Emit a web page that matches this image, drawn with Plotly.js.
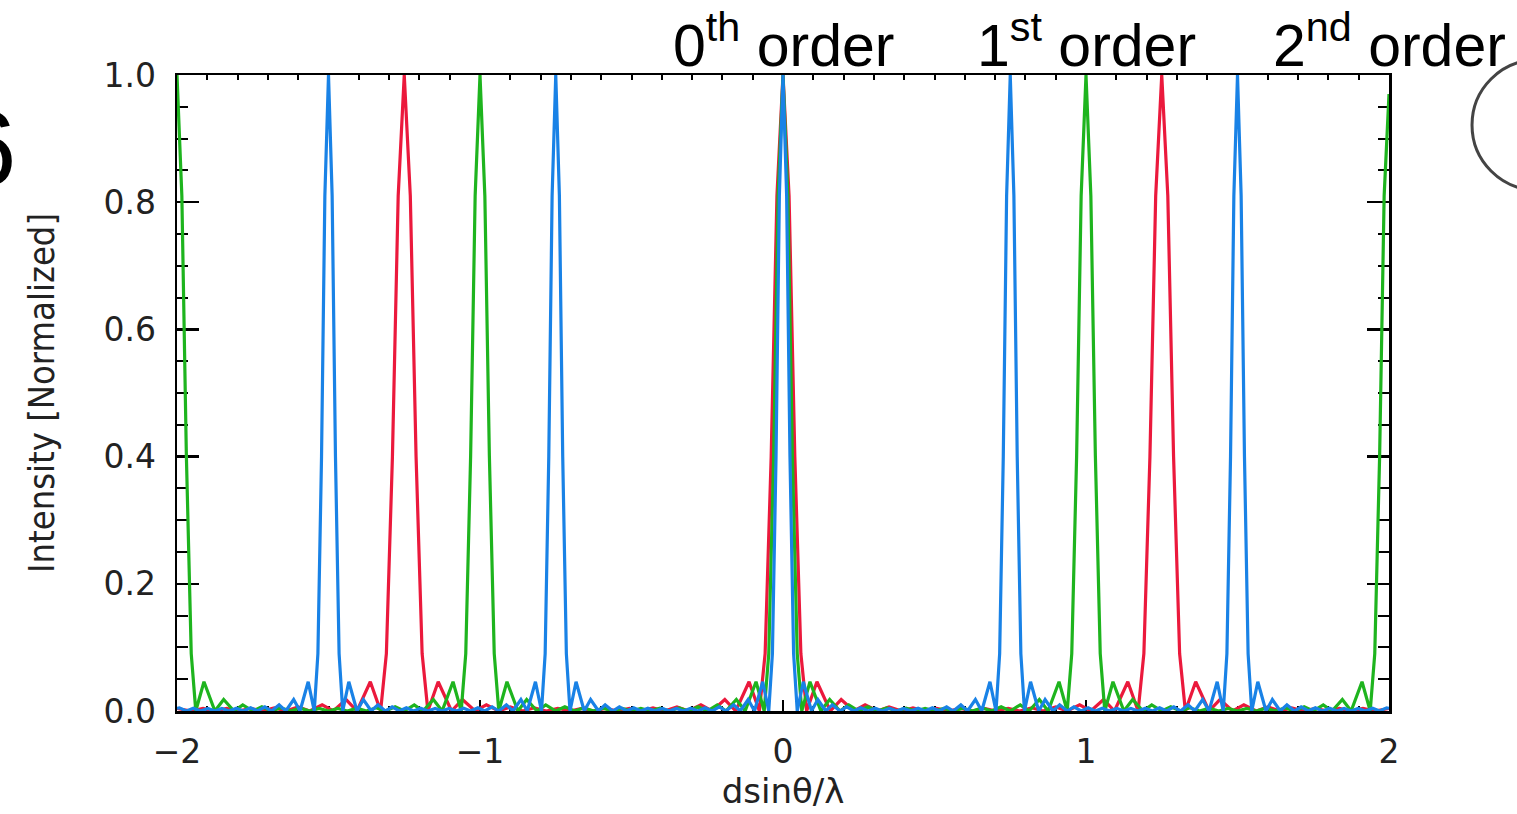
<!DOCTYPE html>
<html>
<head>
<meta charset="utf-8">
<script src="https://cdn.plot.ly/plotly-3.0.1.min.js"></script>
<style>html,body{margin:0;padding:0;background:#fff;}#chart{width:1517px;height:814px;}</style>
</head>
<body>
<div id="chart"></div>
<script>
// Blue series (principal maxima at multiples of 0.75)
const blueX = [
-2.000,-1.992,-1.969,-1.946,-1.922,-1.898,-1.875,-1.852,-1.828,-1.804,-1.781,-1.757,-1.734,-1.710,-1.688,-1.663,-1.641,-1.615,-1.594,-1.567,-1.547,-1.535,-1.523,-1.512,-1.500,
-1.488,-1.477,-1.465,-1.453,-1.433,-1.406,-1.385,-1.359,-1.337,-1.312,-1.290,-1.266,-1.243,-1.219,-1.196,-1.172,-1.148,-1.125,-1.102,-1.078,-1.054,-1.031,-1.007,-0.984,-0.960,-0.938,-0.913,-0.891,-0.865,-0.844,-0.817,-0.797,-0.785,-0.773,-0.762,-0.750,
-0.738,-0.727,-0.715,-0.703,-0.683,-0.656,-0.635,-0.609,-0.587,-0.562,-0.540,-0.516,-0.493,-0.469,-0.446,-0.422,-0.398,-0.375,-0.352,-0.328,-0.304,-0.281,-0.257,-0.234,-0.210,-0.188,-0.163,-0.141,-0.115,-0.094,-0.067,-0.047,-0.035,-0.023,-0.012,0.000,
0.012,0.023,0.035,0.047,0.067,0.094,0.115,0.141,0.163,0.188,0.210,0.234,0.257,0.281,0.304,0.328,0.352,0.375,0.398,0.422,0.446,0.469,0.493,0.516,0.540,0.562,0.587,0.609,0.635,0.656,0.683,0.703,0.715,0.727,0.738,0.750,
0.762,0.773,0.785,0.797,0.817,0.844,0.865,0.891,0.913,0.938,0.960,0.984,1.007,1.031,1.054,1.078,1.102,1.125,1.148,1.172,1.196,1.219,1.243,1.266,1.290,1.312,1.337,1.359,1.385,1.406,1.433,1.453,1.465,1.477,1.488,1.500,
1.512,1.523,1.535,1.547,1.567,1.594,1.615,1.641,1.663,1.688,1.710,1.734,1.757,1.781,1.804,1.828,1.852,1.875,1.898,1.922,1.946,1.969,1.992,2.000
];
const blueY = [
0.004,0.005,0,0.0043,0,0.004,0,0.004,0,0.0043,0,0.005,0,0.0065,0,0.0097,0,0.018,0,0.046,0,0.09,0.40,0.81,1.00,
0.81,0.40,0.09,0,0.046,0,0.018,0,0.0097,0,0.0065,0,0.005,0,0.0043,0,0.004,0,0.004,0,0.0043,0,0.005,0,0.0065,0,0.0097,0,0.018,0,0.046,0,0.09,0.40,0.81,1.00,
0.81,0.40,0.09,0,0.046,0,0.018,0,0.0097,0,0.0065,0,0.005,0,0.0043,0,0.004,0,0.004,0,0.0043,0,0.005,0,0.0065,0,0.0097,0,0.018,0,0.046,0,0.09,0.40,0.81,1.00,
0.81,0.40,0.09,0,0.046,0,0.018,0,0.0097,0,0.0065,0,0.005,0,0.0043,0,0.004,0,0.004,0,0.0043,0,0.005,0,0.0065,0,0.0097,0,0.018,0,0.046,0,0.09,0.40,0.81,1.00,
0.81,0.40,0.09,0,0.046,0,0.018,0,0.0097,0,0.0065,0,0.005,0,0.0043,0,0.004,0,0.004,0,0.0043,0,0.005,0,0.0065,0,0.0097,0,0.018,0,0.046,0,0.09,0.40,0.81,1.00,
0.81,0.40,0.09,0,0.046,0,0.018,0,0.0097,0,0.0065,0,0.005,0,0.0043,0,0.004,0,0.004,0,0.0043,0,0.005,0.004
];

// Red series (principal maxima at multiples of 1.25)
const redX = [
-2.000,-1.953,-1.914,-1.875,-1.836,-1.797,-1.757,-1.719,-1.679,-1.641,-1.600,-1.562,-1.521,-1.484,-1.442,-1.406,-1.362,-1.328,-1.309,-1.289,-1.270,-1.250,
-1.230,-1.211,-1.191,-1.172,-1.138,-1.094,-1.058,-1.016,-0.979,-0.938,-0.900,-0.859,-0.821,-0.781,-0.743,-0.703,-0.664,-0.625,-0.586,-0.547,-0.507,-0.469,-0.429,-0.391,-0.350,-0.312,-0.271,-0.234,-0.192,-0.156,-0.112,-0.078,-0.059,-0.039,-0.020,0.000,
0.020,0.039,0.059,0.078,0.112,0.156,0.192,0.234,0.271,0.312,0.350,0.391,0.429,0.469,0.507,0.547,0.586,0.625,0.664,0.703,0.743,0.781,0.821,0.859,0.900,0.938,0.979,1.016,1.058,1.094,1.138,1.172,1.191,1.211,1.230,1.250,
1.270,1.289,1.309,1.328,1.362,1.406,1.442,1.484,1.521,1.562,1.600,1.641,1.679,1.719,1.757,1.797,1.836,1.875,1.914,1.953,2.000
];
const redY = [
0.004,0,0.004,0,0.004,0,0.0043,0,0.005,0,0.0065,0,0.0097,0,0.018,0,0.046,0,0.09,0.40,0.81,1.00,
0.81,0.40,0.09,0,0.046,0,0.018,0,0.0097,0,0.0065,0,0.005,0,0.0043,0,0.004,0,0.004,0,0.0043,0,0.005,0,0.0065,0,0.0097,0,0.018,0,0.046,0,0.09,0.40,0.81,1.00,
0.81,0.40,0.09,0,0.046,0,0.018,0,0.0097,0,0.0065,0,0.005,0,0.0043,0,0.004,0,0.004,0,0.0043,0,0.005,0,0.0065,0,0.0097,0,0.018,0,0.046,0,0.09,0.40,0.81,1.00,
0.81,0.40,0.09,0,0.046,0,0.018,0,0.0097,0,0.0065,0,0.005,0,0.0043,0,0.004,0,0.004,0,0.004
];

// Green series (principal maxima at integers)
const greenX = [
-2.000,-1.984,-1.969,-1.953,-1.938,-1.911,-1.875,-1.846,-1.812,-1.783,-1.750,-1.720,-1.688,-1.657,-1.625,-1.594,-1.562,-1.531,-1.500,-1.469,-1.438,-1.406,-1.375,-1.343,-1.312,-1.280,-1.250,-1.217,-1.188,-1.154,-1.125,-1.089,-1.062,-1.047,-1.031,-1.016,-1.000,
-0.984,-0.969,-0.953,-0.938,-0.911,-0.875,-0.846,-0.812,-0.783,-0.750,-0.720,-0.688,-0.657,-0.625,-0.594,-0.562,-0.531,-0.500,-0.469,-0.438,-0.406,-0.375,-0.343,-0.312,-0.280,-0.250,-0.217,-0.188,-0.154,-0.125,-0.089,-0.062,-0.047,-0.031,-0.016,0.000,
0.016,0.031,0.047,0.062,0.089,0.125,0.154,0.188,0.217,0.250,0.280,0.312,0.343,0.375,0.406,0.438,0.469,0.500,0.531,0.562,0.594,0.625,0.657,0.688,0.720,0.750,0.783,0.812,0.846,0.875,0.911,0.938,0.953,0.969,0.984,1.000,
1.016,1.031,1.047,1.062,1.089,1.125,1.154,1.188,1.217,1.250,1.280,1.312,1.343,1.375,1.406,1.438,1.469,1.500,1.531,1.562,1.594,1.625,1.657,1.688,1.720,1.750,1.783,1.812,1.846,1.875,1.911,1.938,1.953,1.969,1.984,2.000
];
const greenY = [
1.00,0.81,0.40,0.09,0,0.046,0,0.018,0,0.0097,0,0.0065,0,0.005,0,0.0043,0,0.004,0,0.004,0,0.0043,0,0.005,0,0.0065,0,0.0097,0,0.018,0,0.046,0,0.09,0.40,0.81,1.00,
0.81,0.40,0.09,0,0.046,0,0.018,0,0.0097,0,0.0065,0,0.005,0,0.0043,0,0.004,0,0.004,0,0.0043,0,0.005,0,0.0065,0,0.0097,0,0.018,0,0.046,0,0.09,0.40,0.81,1.00,
0.81,0.40,0.09,0,0.046,0,0.018,0,0.0097,0,0.0065,0,0.005,0,0.0043,0,0.004,0,0.004,0,0.0043,0,0.005,0,0.0065,0,0.0097,0,0.018,0,0.046,0,0.09,0.40,0.81,1.00,
0.81,0.40,0.09,0,0.046,0,0.018,0,0.0097,0,0.0065,0,0.005,0,0.0043,0,0.004,0,0.004,0,0.0043,0,0.005,0,0.0065,0,0.0097,0,0.018,0,0.046,0,0.09,0.40,0.81,0.97
];

const xTickVals = [-2, -1, 0, 1, 2];
const yTickVals = [0, 0.2, 0.4, 0.6, 0.8, 1.0];
const orderLabels = ['0<sup>th</sup> order', '1<sup>st</sup> order', '2<sup>nd</sup> order'];
const orderPositions = [0, 1, 2];

const lineW = 3.2;
const traces = [
  {x: redX, y: redY, type: 'scatter', mode: 'lines', name: 'red', line: {color: 'rgb(235,25,60)', width: lineW}},
  {x: greenX, y: greenY, type: 'scatter', mode: 'lines', name: 'green', line: {color: 'rgb(30,180,30)', width: lineW}},
  {x: blueX, y: blueY, type: 'scatter', mode: 'lines', name: 'blue', line: {color: 'rgb(25,130,230)', width: lineW}}
];

const tickFont = {family: 'DejaVu Sans, sans-serif', size: 33, color: '#222'};

const annotations = orderLabels.map((t, i) => ({
  text: t, x: orderPositions[i], xref: 'x', y: 1.052, yref: 'paper',
  xanchor: 'center', yanchor: 'middle', showarrow: false,
  font: {family: 'Liberation Sans, Arial, sans-serif', size: 59, color: '#000'}
}));
annotations.push({
  text: '6', x: -0.1312, xref: 'paper', y: 0.885, yref: 'paper',
  xanchor: 'right', yanchor: 'middle', showarrow: false,
  font: {family: 'Liberation Sans, Arial, sans-serif', size: 105, color: '#000'}
});

const layout = {
  width: 1517, height: 814,
  margin: {l: 177, r: 128, t: 75, b: 103, pad: 0},
  paper_bgcolor: '#fff', plot_bgcolor: '#fff',
  showlegend: false,
  xaxis: {
    range: [-2, 2], tickmode: 'array', tickvals: xTickVals,
    ticks: 'inside', ticklen: 11, tickwidth: 2.5, tickcolor: '#000',
    showline: true, linewidth: 2.5, linecolor: '#000', mirror: 'allticks',
    showgrid: false, zeroline: false, layer: 'below traces',
    minor: {dtick: 0.1, tick0: 0, ticks: 'inside', ticklen: 5, tickwidth: 2, tickcolor: '#000', showgrid: false},
    tickfont: tickFont, ticklabelstandoff: 10,
    title: {text: 'dsinθ/λ', font: {family: 'DejaVu Sans, sans-serif', size: 34, color: '#222'}, standoff: 8}
  },
  yaxis: {
    range: [0, 1], tickmode: 'array', tickvals: yTickVals, tickformat: '.1f',
    ticks: 'inside', ticklen: 22, tickwidth: 2.5, tickcolor: '#000',
    showline: true, linewidth: 2.5, linecolor: '#000', mirror: 'allticks',
    showgrid: false, zeroline: false, layer: 'below traces',
    minor: {dtick: 0.05, tick0: 0, ticks: 'inside', ticklen: 11, tickwidth: 2, tickcolor: '#000', showgrid: false},
    tickfont: tickFont, ticklabelstandoff: 12,
    title: {text: 'Intensity [Normalized]', font: {family: 'Liberation Sans Narrow, DejaVu Sans Condensed, Arial Narrow, sans-serif', size: 36, color: '#222'}, standoff: 38}
  },
  annotations: annotations,
  shapes: [
    {type: 'circle', xref: 'paper', yref: 'paper', x0: 1.0685, x1: 1.1757, y0: 0.819, y1: 1.0236,
     line: {color: '#444', width: 3}},
    {type: 'rect', xref: 'paper', yref: 'paper', x0: 1.115, x1: 1.16, y0: 0.83, y1: 0.95,
     line: {color: '#bbb', width: 2}}
  ]
};

Plotly.newPlot('chart', traces, layout, {displayModeBar: false, staticPlot: true});
</script>
</body>
</html>
